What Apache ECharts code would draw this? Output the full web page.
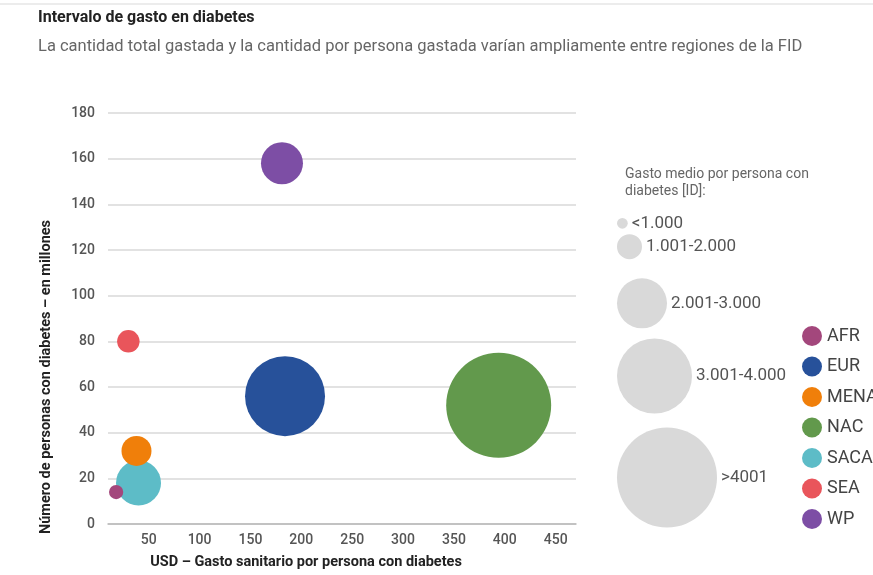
<!DOCTYPE html>
<html>
<head>
<meta charset="utf-8">
<script src="https://cdn.jsdelivr.net/npm/echarts@6/dist/echarts.min.js"></script>
<style>
  html, body { margin: 0; padding: 0; background: #ffffff; }
  #chart { width: 873px; height: 575px; }
</style>
</head>
<body>
<div id="chart"></div>
<script>
// Regiones de la FID
const regions = ['AFR', 'EUR', 'MENA', 'NAC', 'SACA', 'SEA', 'WP'];
// Gasto sanitario por persona con diabetes (USD) — eje X
const gastoSanitario = [18, 184, 38, 394, 40, 30, 181];
// Número de personas con diabetes (millones) — eje Y
const personasMillones = [14, 56, 32, 52, 18, 80, 158];
// Gasto medio por persona con diabetes (ID) — tamaño de burbuja
const gastoMedioID = [570, 3200, 1200, 4200, 1800, 900, 1680];
const regionColors = ['#a3477c', '#27519a', '#f07f0a', '#62994c', '#5dbcc7', '#e9555b', '#7d4ea5'];

// Ticks
const xTickValues = [50, 100, 150, 200, 250, 300, 350, 400, 450];
const yTickInterval = 20;

// Leyenda de tamaño
const sizeLegendLabels = ['<1.000', '1.001-2.000', '2.001-3.000', '3.001-4.000', '>4001'];
const sizeLegendValues = [430, 1000, 2000, 3000, 4000];

const FONT = 'Roboto, "DejaVu Sans", sans-serif';

// diameter in px for a spending value
const bubbleDiameter = v => v / 40;

// smaller bubbles are drawn on top of bigger ones
const order = gastoMedioID.map((v, i) => i).sort((a, b) => gastoMedioID[b] - gastoMedioID[a]);
const zOf = {};
order.forEach((idx, rank) => { zOf[idx] = 2 + rank; });

const series = regions.map((name, i) => ({
  type: 'scatter',
  name: name,
  data: [[gastoSanitario[i], personasMillones[i], gastoMedioID[i]]],
  symbol: 'circle',
  symbolSize: v => bubbleDiameter(v[2]),
  itemStyle: { color: regionColors[i], opacity: 1 },
  emphasis: { disabled: true },
  z: zOf[i]
}));

// size legend layout
const sizeLegendLeft = 617;
const sizeLegendCenters = [223.3, 246.7, 303.3, 376, 477.5];
const sizeLegendGraphics = [];
sizeLegendValues.forEach((v, i) => {
  const d = bubbleDiameter(v);
  sizeLegendGraphics.push({
    type: 'circle',
    shape: { cx: sizeLegendLeft + d / 2, cy: sizeLegendCenters[i], r: d / 2 },
    style: { fill: '#d9d9d9' },
    silent: true
  });
  sizeLegendGraphics.push({
    type: 'text',
    x: sizeLegendLeft + d + 4,
    y: sizeLegendCenters[i],
    style: {
      text: sizeLegendLabels[i],
      fill: '#555555',
      font: '17px ' + FONT,
      textVerticalAlign: 'middle'
    },
    silent: true
  });
});

const chart = echarts.init(document.getElementById('chart'), null, { renderer: 'canvas' });

chart.setOption({
  backgroundColor: '#ffffff',
  animation: false,
  textStyle: { fontFamily: FONT },
  grid: { left: 108, right: 297, top: 113, bottom: 51, containLabel: false },
  xAxis: {
    type: 'value',
    min: 10,
    max: 470,
    splitLine: { show: false },
    axisLine: { show: true, lineStyle: { color: '#b8b8b8', width: 1.5 } },
    axisTick: { show: false },
    axisLabel: {
      customValues: xTickValues,
      margin: 9,
      fontSize: 14,
      fontWeight: 500,
      color: '#555555',
      fontFamily: FONT
    }
  },
  yAxis: {
    type: 'value',
    min: 0,
    max: 180,
    interval: yTickInterval,
    axisLine: { show: false },
    axisTick: { show: false },
    splitLine: { show: true, lineStyle: { color: '#d9d9d9', width: 1.5 } },
    axisLabel: {
      margin: 13,
      fontSize: 14,
      fontWeight: 500,
      color: '#555555',
      fontFamily: FONT
    }
  },
  legend: {
    data: regions,
    orient: 'vertical',
    left: 802,
    top: 326,
    padding: 0,
    icon: 'circle',
    itemWidth: 20,
    itemHeight: 20,
    itemGap: 10.5,
    selectedMode: false,
    textStyle: { fontSize: 18, color: '#444444', fontFamily: FONT }
  },
  graphic: [
    {
      type: 'line',
      shape: { x1: 0, y1: 4, x2: 873, y2: 4 },
      style: { stroke: '#ececec', lineWidth: 2 },
      silent: true
    },
    {
      type: 'text',
      x: 38,
      y: 18,
      style: {
        text: 'Intervalo de gasto en diabetes',
        fill: '#222222',
        font: 'bold 16px ' + FONT,
        textVerticalAlign: 'middle'
      }
    },
    {
      type: 'text',
      x: 38,
      y: 47,
      style: {
        text: 'La cantidad total gastada y la cantidad por persona gastada varían ampliamente entre regiones de la FID',
        fill: '#666666',
        font: '16.5px ' + FONT,
        textVerticalAlign: 'middle'
      }
    },
    {
      type: 'text',
      x: 46,
      y: 377,
      rotation: Math.PI / 2,
      style: {
        text: 'Número de personas con diabetes – en millones',
        fill: '#222222',
        font: 'bold 14.5px ' + FONT,
        textAlign: 'center',
        textVerticalAlign: 'middle'
      }
    },
    {
      type: 'text',
      x: 306,
      y: 562,
      style: {
        text: 'USD – Gasto sanitario por persona con diabetes',
        fill: '#222222',
        font: 'bold 14.5px ' + FONT,
        textAlign: 'center',
        textVerticalAlign: 'middle'
      }
    },
    {
      type: 'text',
      x: 625,
      y: 166,
      style: {
        text: 'Gasto medio por persona con\ndiabetes [ID]:',
        fill: '#666666',
        font: '14px ' + FONT,
        lineHeight: 17
      }
    }
  ].concat(sizeLegendGraphics),
  series: series
});
</script>
</body>
</html>
